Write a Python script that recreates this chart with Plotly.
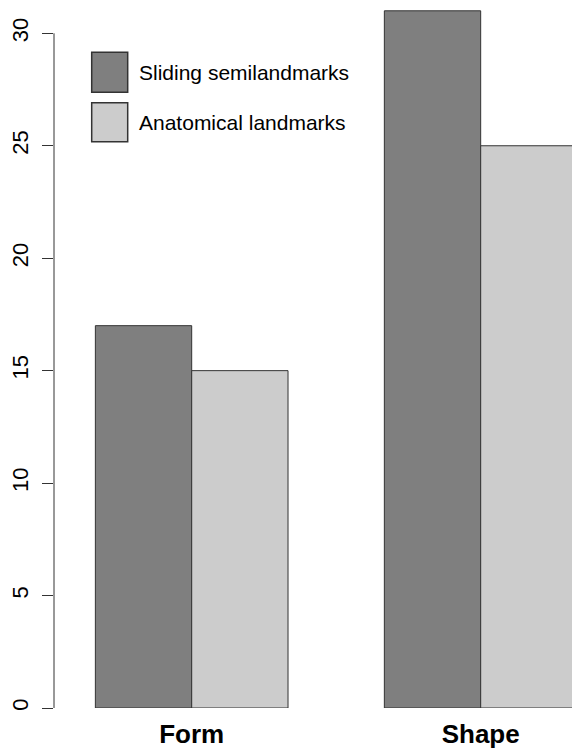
import plotly.graph_objects as go

# Counts per analysis type
categories = ["Form", "Shape"]
sliding_semilandmarks = [17, 31]
anatomical_landmarks = [15, 25]
series_names = ["Sliding semilandmarks", "Anatomical landmarks"]
y_ticks = [0, 5, 10, 15, 20, 25, 30]

DARK = "#7f7f7f"
LIGHT = "#cccccc"
EDGE = "#333333"
FONT = "Liberation Sans, Arial, sans-serif"

W, H = 572, 750
ML, MR, MT, MB = 54, 0, 0, 42
plot_w = W - ML - MR
plot_h = H - MT - MB

fig = go.Figure()
for name, vals, col in [(series_names[0], sliding_semilandmarks, DARK),
                        (series_names[1], anatomical_landmarks, LIGHT)]:
    fig.add_trace(go.Bar(
        x=categories, y=vals, name=name,
        marker=dict(color=col, line=dict(color=EDGE, width=1)),
        showlegend=False,
    ))

# y-axis line spanning only the tick range, as in base R graphics
fig.add_shape(type="line", xref="paper", yref="y", x0=0, x1=0,
              y0=min(y_ticks), y1=max(y_ticks),
              line=dict(color=EDGE, width=1))

# Legend drawn as filled boxes with labels (no frame)
def px_to_paper_x(px):
    return (px - ML) / plot_w

def px_to_paper_y(py):
    return (H - MB - py) / plot_h

legend_rows = [(series_names[0], DARK, 52.3, 92.3),
               (series_names[1], LIGHT, 102.7, 141.7)]
for label, col, top, bot in legend_rows:
    fig.add_shape(type="rect", xref="paper", yref="paper",
                  x0=px_to_paper_x(91.7), x1=px_to_paper_x(127.7),
                  y0=px_to_paper_y(bot), y1=px_to_paper_y(top),
                  fillcolor=col, line=dict(color=EDGE, width=1.5))
    fig.add_annotation(xref="paper", yref="paper",
                       x=px_to_paper_x(137), y=px_to_paper_y((top + bot) / 2),
                       text=label, showarrow=False, xanchor="left", yanchor="middle",
                       font=dict(family=FONT, size=21, color="#000000"))

fig.update_layout(
    width=W, height=H,
    margin=dict(l=ML, r=MR, t=MT, b=MB, pad=0),
    paper_bgcolor="white", plot_bgcolor="white",
    barmode="group", bargap=1/3, bargroupgap=0,
    font=dict(family=FONT, color="#000000"),
    xaxis=dict(range=[-0.4765, 1.316], showline=False, showgrid=False,
               zeroline=False, ticks="", ticklabelstandoff=8,
               tickfont=dict(family=FONT, size=26, weight="bold", color="#000000")),
    yaxis=dict(range=[0, plot_h / 22.49], tickvals=y_ticks, showline=False,
               showgrid=False, zeroline=False, ticks="outside", ticklen=11,
               tickcolor=EDGE, tickwidth=1, tickangle=-90, ticklabelstandoff=5,
               tickfont=dict(family=FONT, size=22, color="#000000")),
)

fig.write_html("out.html")
